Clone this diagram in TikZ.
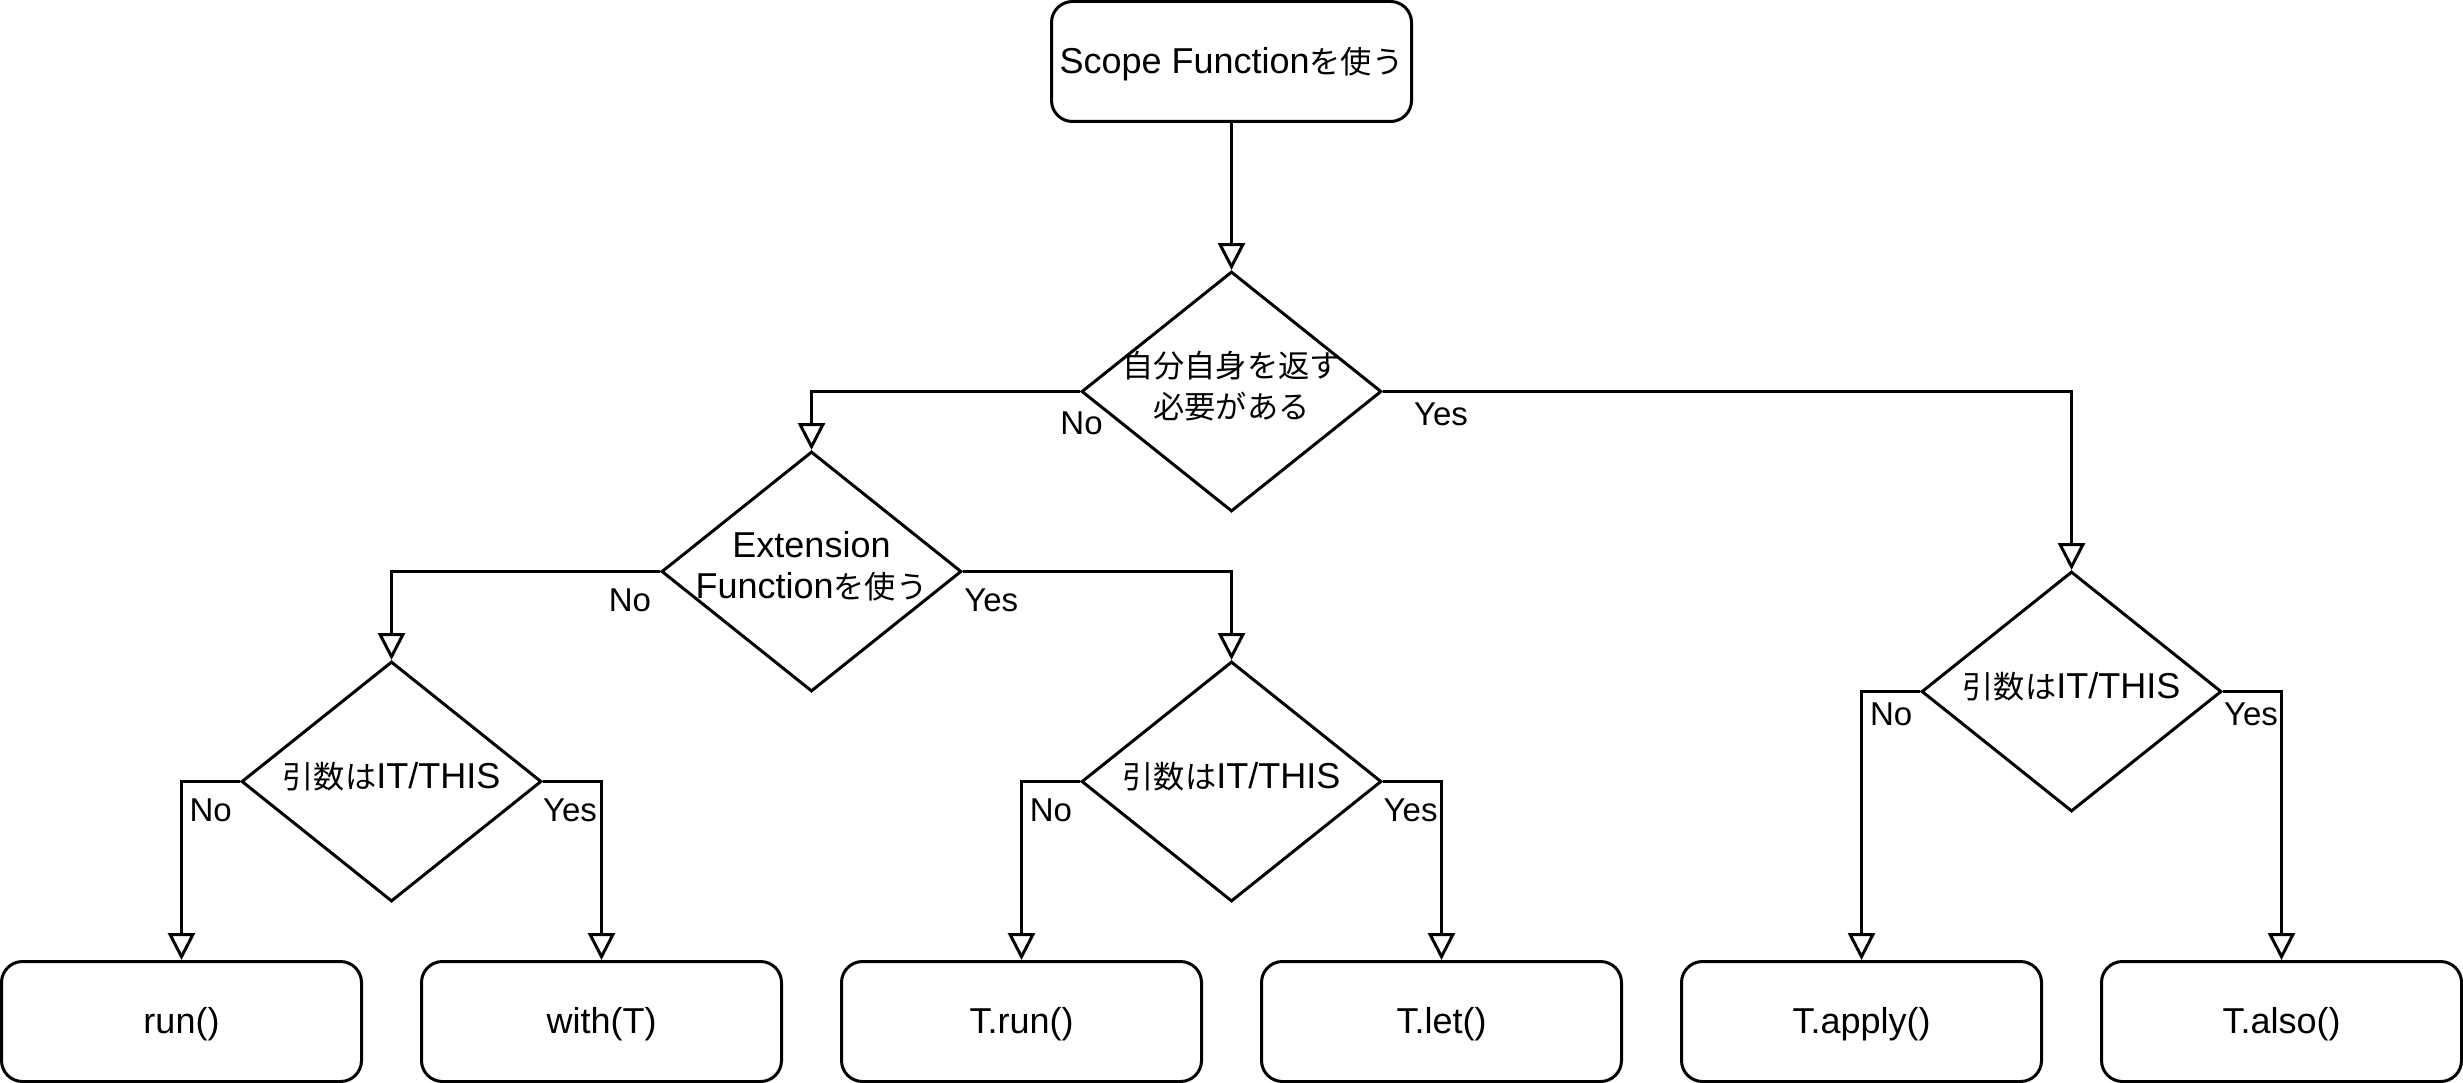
\documentclass[tikz,border=0pt]{standalone}
\usepackage{fontspec}
\setmainfont{Liberation Sans}
\newfontfamily\jpfont{Noto Sans CJK JP}
\newcommand\jp[1]{{\jpfont\fontsize{10.4}{13.5}\selectfont #1}}
\usetikzlibrary{shapes.geometric,arrows.meta}
\begin{document}
\begin{tikzpicture}[x=1pt,y=-1pt,
  box/.style={draw, line width=1pt, rounded corners=7pt, minimum width=120pt, minimum height=40pt, inner sep=0pt, text height=11.36pt, text depth=3.04pt, font=\fontsize{12}{14}\selectfont},
  dec/.style={draw, line width=1pt, diamond, minimum width=100pt, minimum height=80pt, inner sep=0pt},
  dtext/.style={align=center, inner sep=0pt, font=\fontsize{12}{13.5}\selectfont},
  arr/.style={line width=1pt, -{Triangle[open,length=9pt,width=9pt]}},
  lbl/.style={inner sep=0pt, font=\fontsize{11}{13}\selectfont}]
\fill[white] (0,0) rectangle (821,361);
\useasboundingbox (0,0) rectangle (821,361);

\node[box] (top) at (410.5,20.5) {Scope Function\jp{を使う}};

\node[dec] (d1) at (410.5,130.5) {};
\node[dec] (d2) at (270.5,190.5) {};
\node[dec] (d3) at (130.5,260.5) {};
\node[dec] (d4) at (410.5,260.5) {};
\node[dec] (d5) at (690.5,230.5) {};

\node[dtext] (t1) at (410.5,128.7) {\jp{自分自身を返す}\\\jp{必要がある}};
\node[dtext] (t2) at (270.5,188.7) {Extension\\Function\jp{を使う}};
\node[dtext] (t3) at (130.5,259) {\jp{引数は}IT/THIS};
\node[dtext] (t4) at (410.5,259) {\jp{引数は}IT/THIS};
\node[dtext] (t5) at (690.5,229) {\jp{引数は}IT/THIS};

\node[box] (b1) at (60.5,340.5) {run()};
\node[box] (b2) at (200.5,340.5) {with(T)};
\node[box] (b3) at (340.5,340.5) {T.run()};
\node[box] (b4) at (480.5,340.5) {T.let()};
\node[box] (b5) at (620.5,340.5) {T.apply()};
\node[box] (b6) at (760.5,340.5) {T.also()};

\draw[arr] (top.south) -- (d1.north);
\draw[arr] (d1.west) -| (d2.north);
\draw[arr] (d1.east) -| (d5.north);
\draw[arr] (d2.west) -| (d3.north);
\draw[arr] (d2.east) -| (d4.north);
\draw[arr] (d3.west) -| (b1.north);
\draw[arr] (d3.east) -| (b2.north);
\draw[arr] (d4.west) -| (b3.north);
\draw[arr] (d4.east) -| (b4.north);
\draw[arr] (d5.west) -| (b5.north);
\draw[arr] (d5.east) -| (b6.north);

\node[lbl] (n1) at (360.5,141) {No};
\node[lbl] (y1) at (480.3,138.2) {Yes};
\node[lbl] (n2) at (210,200) {No};
\node[lbl] (y2) at (330.4,200) {Yes};
\node[lbl] (n3) at (70.2,270.2) {No};
\node[lbl] (y3) at (190,270.2) {Yes};
\node[lbl] (n4) at (350.3,270.2) {No};
\node[lbl] (y4) at (470.2,270.2) {Yes};
\node[lbl] (n5) at (630.4,238.2) {No};
\node[lbl] (y5) at (750.3,238.2) {Yes};
\end{tikzpicture}
\end{document}
